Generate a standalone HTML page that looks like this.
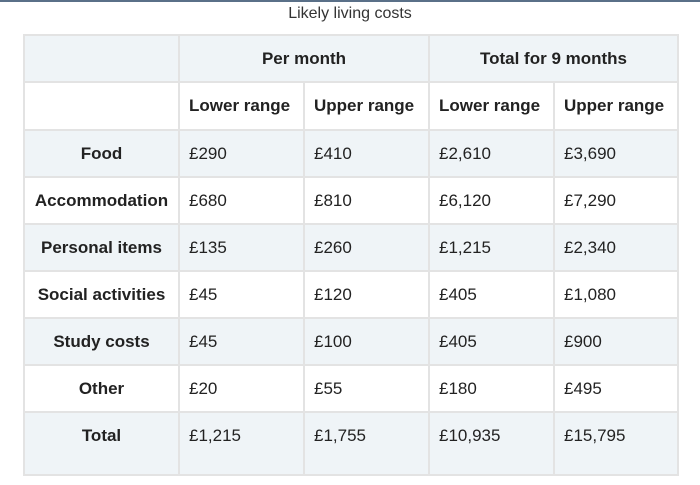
<!DOCTYPE html>
<html><head><meta charset="utf-8"><style>
body{margin:0;width:700px;height:485px;background:#fff;font-family:"Liberation Sans",sans-serif;position:relative;overflow:hidden}
.topline{position:absolute;left:0;top:0;width:700px;height:2px;background:#5a7088}
.title{position:absolute;left:0;width:700px;top:5px;text-align:center;font-size:16px;color:#333}
table{position:absolute;left:23px;top:34px;border-collapse:collapse;border:2px solid #e3e3e3;font-size:17px;color:#222}
td,th{border:2px solid #e3e3e3;padding:0 0 0 9px;height:45px;text-align:left;vertical-align:top;padding-top:13px;box-sizing:border-box}
th{font-weight:bold}
.c{text-align:center;padding-left:0}
.l{background:#eff4f7}
</style></head><body>
<div class="topline"></div>
<div class="title">Likely living costs</div>
<table>
<colgroup><col style="width:155px"><col style="width:125px"><col style="width:125px"><col style="width:125px"><col style="width:124px"></colgroup>
<tr class="l" style="height:47px"><th></th><th class="c" colspan="2">Per month</th><th class="c" colspan="2">Total for 9 months</th></tr>
<tr style="height:48px"><th></th><th>Lower range</th><th>Upper range</th><th>Lower range</th><th>Upper range</th></tr>
<tr class="l" style="height:47px"><th class="c">Food</th><td>£290</td><td>£410</td><td>£2,610</td><td>£3,690</td></tr>
<tr style="height:47px"><th class="c">Accommodation</th><td>£680</td><td>£810</td><td>£6,120</td><td>£7,290</td></tr>
<tr class="l" style="height:47px"><th class="c">Personal items</th><td>£135</td><td>£260</td><td>£1,215</td><td>£2,340</td></tr>
<tr style="height:47px"><th class="c">Social activities</th><td>£45</td><td>£120</td><td>£405</td><td>£1,080</td></tr>
<tr class="l" style="height:47px"><th class="c">Study costs</th><td>£45</td><td>£100</td><td>£405</td><td>£900</td></tr>
<tr style="height:47px"><th class="c">Other</th><td>£20</td><td>£55</td><td>£180</td><td>£495</td></tr>
<tr class="l" style="height:63px"><th class="c">Total</th><td>£1,215</td><td>£1,755</td><td>£10,935</td><td>£15,795</td></tr>
</table>
</body></html>
